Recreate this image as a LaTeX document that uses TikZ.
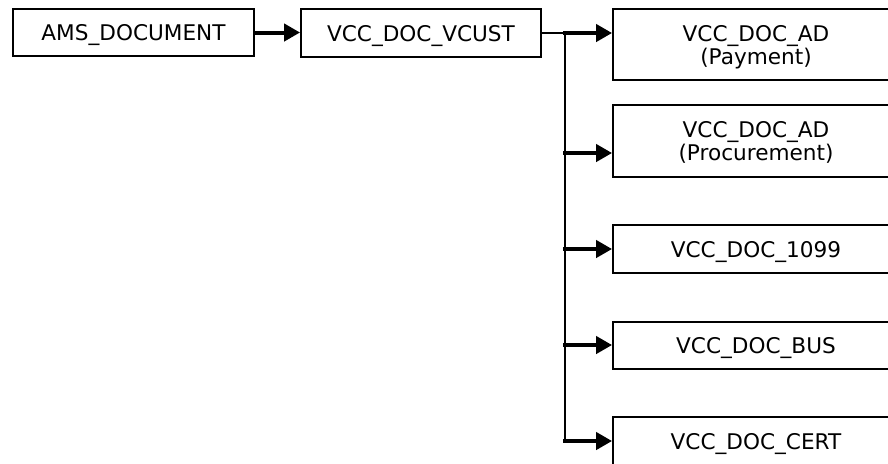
\documentclass[tikz,border=0pt]{standalone}
\usepackage{fontspec}
\setmainfont{DejaVu Sans}
\usetikzlibrary{arrows.meta,calc,positioning}

\begin{document}
\begin{tikzpicture}[x=0.5pt,y=-0.5pt,>={Triangle[length=8pt,width=8.5pt]},
  box/.style={draw,line width=0.9pt,inner sep=0pt,align=center,text depth=0pt,
    font=\fontsize{10.8}{11.5}\selectfont},
  docbox/.style={box,minimum width=143pt},
  feed/.style={->,line width=2pt},
  link/.style={line width=1pt}]
  \clip (0,0) rectangle (888,463);
  \node[box,minimum width=120.5pt,minimum height=23.5pt] (ams) at (133.5,32.5) {AMS\_DOCUMENT};
  \node[box,minimum width=120pt,minimum height=24pt] (vcust) at (421,33) {VCC\_DOC\_VCUST};
  \node[docbox,minimum height=35.5pt] (pay) at (756,44.5) {VCC\_DOC\_AD\\(Payment)};
  \node[docbox,minimum height=36pt] (proc) at (756,141) {VCC\_DOC\_AD\\(Procurement)};
  \node[docbox,minimum height=24pt] (b1099) at (756,249) {VCC\_DOC\_1099};
  \node[docbox,minimum height=23.5pt] (bus) at (756,345.5) {VCC\_DOC\_BUS};
  \node[docbox,minimum height=24pt] (cert) at (756,441) {VCC\_DOC\_CERT};
  % trunk and branch points
  \coordinate (split) at (565,33);
  \coordinate (t2) at (565,153);
  \coordinate (t3) at (565,249);
  \coordinate (t4) at (565,345);
  \coordinate (t5) at (565,441);
  \draw[feed] (ams.east) -- (vcust.west |- ams.east);
  \draw[link] (vcust.east) -- (split) -- (t5);
  \foreach \t/\n in {split/pay,t2/proc,t3/b1099,t4/bus,t5/cert}
    \draw[feed] ($(\t)+(-2,0)$) -- (\n.west |- \t);
\end{tikzpicture}
\end{document}
